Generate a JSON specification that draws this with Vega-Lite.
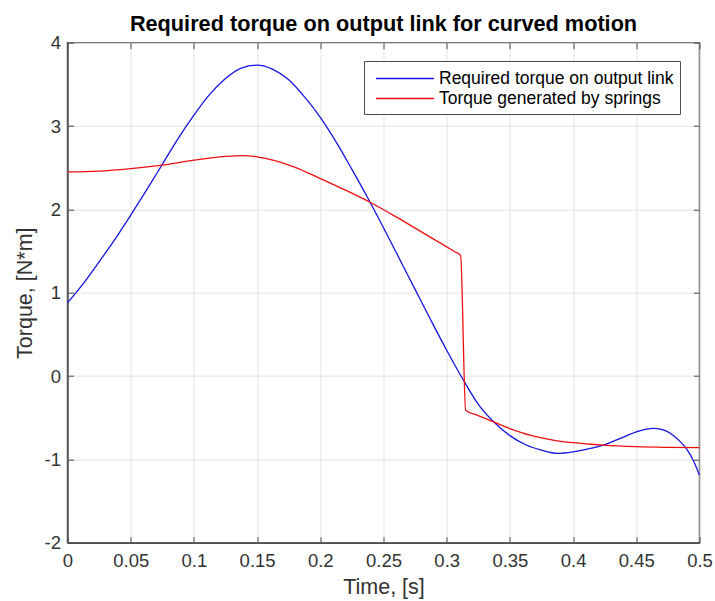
{
  "$schema": "https://vega.github.io/schema/vega-lite/v6.json",
  "width": 632,
  "height": 500,
  "autosize": {"type": "none"},
  "padding": {"left": 67.5, "top": 42.7, "right": 15.5, "bottom": 58.3},
  "background": "white",
  "title": {
    "text": "Required torque on output link for curved motion",
    "fontSize": 21.7,
    "fontWeight": "bold",
    "font": "Liberation Sans",
    "color": "#000000",
    "anchor": "middle",
    "offset": -2
  },
  "config": {
    "font": "Liberation Sans",
    "view": {"stroke": "#4d4d4d", "strokeWidth": 1.5}
  },
  "data": {
    "values": [
      {"series": "Required torque on output link", "t": 0.0, "torque": 0.88},
      {"series": "Required torque on output link", "t": 0.0125, "torque": 1.11},
      {"series": "Required torque on output link", "t": 0.025, "torque": 1.37},
      {"series": "Required torque on output link", "t": 0.0375, "torque": 1.64},
      {"series": "Required torque on output link", "t": 0.05, "torque": 1.93},
      {"series": "Required torque on output link", "t": 0.0625, "torque": 2.23},
      {"series": "Required torque on output link", "t": 0.075, "torque": 2.54},
      {"series": "Required torque on output link", "t": 0.0875, "torque": 2.85},
      {"series": "Required torque on output link", "t": 0.1, "torque": 3.13},
      {"series": "Required torque on output link", "t": 0.1125, "torque": 3.38},
      {"series": "Required torque on output link", "t": 0.125, "torque": 3.57},
      {"series": "Required torque on output link", "t": 0.1375, "torque": 3.695},
      {"series": "Required torque on output link", "t": 0.15, "torque": 3.73},
      {"series": "Required torque on output link", "t": 0.1625, "torque": 3.68},
      {"series": "Required torque on output link", "t": 0.175, "torque": 3.555},
      {"series": "Required torque on output link", "t": 0.1875, "torque": 3.35},
      {"series": "Required torque on output link", "t": 0.2, "torque": 3.105},
      {"series": "Required torque on output link", "t": 0.2125, "torque": 2.81},
      {"series": "Required torque on output link", "t": 0.225, "torque": 2.48},
      {"series": "Required torque on output link", "t": 0.2375, "torque": 2.14},
      {"series": "Required torque on output link", "t": 0.25, "torque": 1.78},
      {"series": "Required torque on output link", "t": 0.2625, "torque": 1.41},
      {"series": "Required torque on output link", "t": 0.275, "torque": 1.04},
      {"series": "Required torque on output link", "t": 0.2875, "torque": 0.67},
      {"series": "Required torque on output link", "t": 0.3, "torque": 0.31},
      {"series": "Required torque on output link", "t": 0.3125, "torque": -0.03},
      {"series": "Required torque on output link", "t": 0.325, "torque": -0.34},
      {"series": "Required torque on output link", "t": 0.3375, "torque": -0.555},
      {"series": "Required torque on output link", "t": 0.35, "torque": -0.715},
      {"series": "Required torque on output link", "t": 0.3625, "torque": -0.825},
      {"series": "Required torque on output link", "t": 0.375, "torque": -0.89},
      {"series": "Required torque on output link", "t": 0.3875, "torque": -0.928},
      {"series": "Required torque on output link", "t": 0.4, "torque": -0.91},
      {"series": "Required torque on output link", "t": 0.412, "torque": -0.875},
      {"series": "Required torque on output link", "t": 0.424, "torque": -0.828},
      {"series": "Required torque on output link", "t": 0.437, "torque": -0.75},
      {"series": "Required torque on output link", "t": 0.45, "torque": -0.67},
      {"series": "Required torque on output link", "t": 0.457, "torque": -0.64},
      {"series": "Required torque on output link", "t": 0.464, "torque": -0.627},
      {"series": "Required torque on output link", "t": 0.472, "torque": -0.65},
      {"series": "Required torque on output link", "t": 0.479, "torque": -0.71},
      {"series": "Required torque on output link", "t": 0.485, "torque": -0.79},
      {"series": "Required torque on output link", "t": 0.49, "torque": -0.88},
      {"series": "Required torque on output link", "t": 0.495, "torque": -1.01},
      {"series": "Required torque on output link", "t": 0.5, "torque": -1.19},
      {"series": "Torque generated by springs", "t": 0.0, "torque": 2.45},
      {"series": "Torque generated by springs", "t": 0.025, "torque": 2.46},
      {"series": "Torque generated by springs", "t": 0.05, "torque": 2.49},
      {"series": "Torque generated by springs", "t": 0.075, "torque": 2.53},
      {"series": "Torque generated by springs", "t": 0.1, "torque": 2.59},
      {"series": "Torque generated by springs", "t": 0.125, "torque": 2.635},
      {"series": "Torque generated by springs", "t": 0.139, "torque": 2.645},
      {"series": "Torque generated by springs", "t": 0.15, "torque": 2.63},
      {"series": "Torque generated by springs", "t": 0.164, "torque": 2.585},
      {"series": "Torque generated by springs", "t": 0.18, "torque": 2.505},
      {"series": "Torque generated by springs", "t": 0.2, "torque": 2.37},
      {"series": "Torque generated by springs", "t": 0.22, "torque": 2.23},
      {"series": "Torque generated by springs", "t": 0.24, "torque": 2.08},
      {"series": "Torque generated by springs", "t": 0.26, "torque": 1.91},
      {"series": "Torque generated by springs", "t": 0.28, "torque": 1.73},
      {"series": "Torque generated by springs", "t": 0.3, "torque": 1.55},
      {"series": "Torque generated by springs", "t": 0.306, "torque": 1.495},
      {"series": "Torque generated by springs", "t": 0.311, "torque": 1.445},
      {"series": "Torque generated by springs", "t": 0.315, "torque": -0.41},
      {"series": "Torque generated by springs", "t": 0.325, "torque": -0.475},
      {"series": "Torque generated by springs", "t": 0.337, "torque": -0.55},
      {"series": "Torque generated by springs", "t": 0.35, "torque": -0.63},
      {"series": "Torque generated by springs", "t": 0.366, "torque": -0.71},
      {"series": "Torque generated by springs", "t": 0.383, "torque": -0.765},
      {"series": "Torque generated by springs", "t": 0.4, "torque": -0.8},
      {"series": "Torque generated by springs", "t": 0.424, "torque": -0.83},
      {"series": "Torque generated by springs", "t": 0.45, "torque": -0.848},
      {"series": "Torque generated by springs", "t": 0.475, "torque": -0.856},
      {"series": "Torque generated by springs", "t": 0.5, "torque": -0.86}
    ]
  },
  "layer": [
    {
      "mark": {"type": "line", "interpolate": "monotone", "strokeWidth": 1.3},
      "encoding": {
        "x": {
          "field": "t",
          "type": "quantitative",
          "scale": {"domain": [0, 0.5], "nice": false, "zero": false},
          "axis": {
            "values": [0, 0.05, 0.1, 0.15, 0.2, 0.25, 0.3, 0.35, 0.4, 0.45, 0.5],
            "format": "~g",
            "labelFlush": false,
            "labelOverlap": false,
            "labelFontSize": 18.5,
            "labelColor": "#333333",
            "labelPadding": 15,
            "tickSize": -6,
            "tickColor": "#4d4d4d",
            "domainColor": "#4d4d4d",
            "domainWidth": 1.5,
            "grid": true,
            "gridColor": "#e3e3e3",
            "title": "Time, [s]",
            "titleFontSize": 21.5,
            "titleFontWeight": "normal",
            "titleColor": "#333333",
            "titlePadding": 6
          }
        },
        "y": {
          "field": "torque",
          "type": "quantitative",
          "scale": {"domain": [-2, 4], "nice": false, "zero": false},
          "axis": {
            "values": [-2, -1, 0, 1, 2, 3, 4],
            "labelExpr": "'' + datum.value",
            "labelFlush": false,
            "labelOverlap": false,
            "labelFontSize": 18.5,
            "labelColor": "#333333",
            "labelPadding": 13,
            "tickSize": -6,
            "tickColor": "#4d4d4d",
            "domainColor": "#4d4d4d",
            "domainWidth": 1.5,
            "grid": true,
            "gridColor": "#e3e3e3",
            "title": "Torque, [N*m]",
            "titleFontSize": 21.5,
            "titleFontWeight": "normal",
            "titleColor": "#333333",
            "titlePadding": 8
          }
        },
        "color": {
          "field": "series",
          "type": "nominal",
          "scale": {
            "domain": ["Required torque on output link", "Torque generated by springs"],
            "range": ["#1515e0", "#ee1010"]
          },
          "legend": {
            "orient": "none",
            "legendX": 296.5,
            "legendY": 18.3,
            "title": null,
            "symbolType": "M-2.9,0H2.9",
            "symbolSize": 400,
            "symbolOffset": 23.5,
            "symbolStrokeWidth": 1.5,
            "labelFontSize": 17.5,
            "labelColor": "#000000",
            "labelLimit": 0,
            "labelOffset": 23,
            "rowPadding": 0,
            "padding": 6.5,
            "fillColor": "white",
            "strokeColor": "#4d4d4d"
          }
        }
      }
    },
    {
      "mark": {"type": "line", "opacity": 0},
      "encoding": {
        "x": {
          "field": "t",
          "type": "quantitative",
          "axis": {
            "orient": "top",
            "values": [0, 0.05, 0.1, 0.15, 0.2, 0.25, 0.3, 0.35, 0.4, 0.45, 0.5],
            "labels": false,
            "domain": false,
            "grid": false,
            "tickSize": -6,
            "tickColor": "#4d4d4d",
            "title": null
          }
        },
        "y": {
          "field": "torque",
          "type": "quantitative",
          "axis": {
            "orient": "right",
            "values": [-2, -1, 0, 1, 2, 3, 4],
            "labels": false,
            "domain": false,
            "grid": false,
            "tickSize": -6,
            "tickColor": "#4d4d4d",
            "title": null
          }
        },
        "detail": {"field": "series"}
      }
    }
  ],
  "resolve": {"axis": {"x": "independent", "y": "independent"}}
}
